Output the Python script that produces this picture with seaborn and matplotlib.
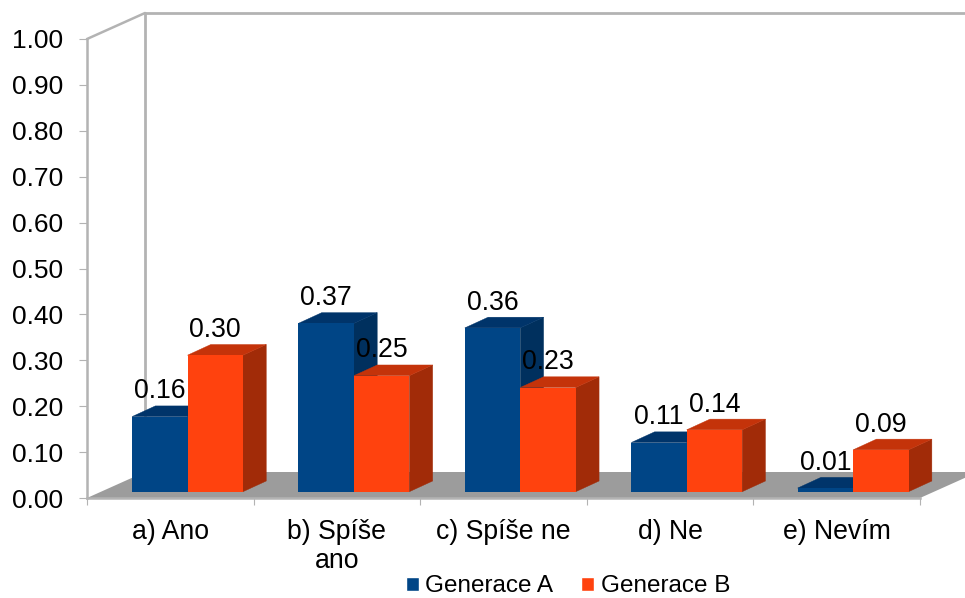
import matplotlib
matplotlib.use("Agg")
import matplotlib.pyplot as plt
from matplotlib.patches import Polygon
import numpy as np
import pandas as pd
import seaborn as sns

# ---- data ----
categories = ["a) Ano", "b) Spíše\nano", "c) Spíše ne", "d) Ne", "e) Nevím"]
series_a = [0.165, 0.37, 0.36, 0.108, 0.008]
series_b = [0.30, 0.255, 0.229, 0.136, 0.092]
labels_a = ["0.16", "0.37", "0.36", "0.11", "0.01"]
labels_b = ["0.30", "0.25", "0.23", "0.14", "0.09"]
y_ticks = [0.0, 0.1, 0.2, 0.3, 0.4, 0.5, 0.6, 0.7, 0.8, 0.9, 1.0]
series_names = ["Generace A", "Generace B"]

sns.set_theme(style="white")
plt.rcParams["font.family"] = ["Liberation Sans", "DejaVu Sans"]

W, H = 965, 598
GREY = "#b3b3b3"
FLOOR = "#9c9c9c"
front = {"Generace A": "#004586", "Generace B": "#ff420e"}
top_c = {"Generace A": "#00346a", "Generace B": "#c4330a"}
side_c = {"Generace A": "#00305e", "Generace B": "#a12b08"}


def box(x0, y_top, w, h):
    return [x0 / W, 1 - (y_top + h) / H, w / W, h / H]


fig = plt.figure(figsize=(W / 100, H / 100), dpi=100)

# ---- wall/floor axes: 5 categories across, 0..1 upward ----
AX_L, AX_T, AX_W, AX_H = 87, 39, 833, 459
ax = fig.add_axes(box(AX_L, AX_T, AX_W, AX_H))
ax.set_xlim(0, len(categories))
ax.set_ylim(0, 1)
ax.patch.set_visible(False)
step = AX_W / len(categories)
wall_dx = 58 / step
wall_dy = 26 / AX_H

floor = Polygon(
    [(0, 0), (wall_dx, wall_dy), (len(categories) + wall_dx, wall_dy), (len(categories), 0)],
    closed=True, facecolor=FLOOR, edgecolor="none", zorder=1, clip_on=False,
)
ax.add_patch(floor)
ax.plot([0, wall_dx], [1, 1 + wall_dy], color=GREY, lw=1.8, clip_on=False, zorder=2)
ax.plot([wall_dx, wall_dx], [wall_dy, 1 + wall_dy], color=GREY, lw=2.0, clip_on=False, zorder=2)
ax.plot([wall_dx, len(categories) + wall_dx], [1 + wall_dy, 1 + wall_dy],
        color=GREY, lw=2.0, clip_on=False, zorder=2)

for s in ("top", "right"):
    ax.spines[s].set_visible(False)
for s in ("left", "bottom"):
    ax.spines[s].set_color(GREY)
    ax.spines[s].set_linewidth(1.8)
ax.set_yticks(y_ticks)
ax.set_yticklabels([f"{v:.2f}" for v in y_ticks], fontsize=19, color="black")
ax.set_xticks(np.arange(len(categories) + 1))
ax.set_xticklabels([])
ax.set_xticks(np.arange(len(categories)) + 0.5, minor=True)
ax.set_xticklabels(categories, minor=True, fontsize=19.2, color="black", linespacing=1.16)
ax.tick_params(axis="y", which="major", left=True, length=6, width=0.8, color=GREY, pad=11)
ax.tick_params(axis="x", which="major", bottom=True, length=5, width=0.8, color=GREY)
ax.tick_params(axis="x", which="minor", bottom=False, length=0, pad=15)

# ---- bar axes: front plane of the 3D bars ----
STEP = 166.4
BAR_BASE = 491.7
BAR_SCALE = 455
BAR_L = 187.5 - STEP / 2
bx = fig.add_axes(box(BAR_L, BAR_BASE - BAR_SCALE, STEP * len(categories), BAR_SCALE))
bx.patch.set_visible(False)

df = pd.DataFrame({
    "category": categories * 2,
    "value": series_a + series_b,
    "series": [series_names[0]] * len(categories) + [series_names[1]] * len(categories),
})
sns.barplot(data=df, x="category", y="value", hue="series", hue_order=series_names,
            palette=front, width=2 / 3, gap=0, dodge=True, saturation=1, ax=bx, zorder=5)
bx.set_xlim(-0.5, len(categories) - 0.5)
bx.set_ylim(0, 1)
handles, names = bx.get_legend_handles_labels()
bx.get_legend().remove()
bx.axis("off")

dx = 23.3 / STEP
dy = 10.7 / BAR_SCALE
label_gap = 18.3 / BAR_SCALE
for i, (name, container, texts) in enumerate(zip(series_names, bx.containers, (labels_a, labels_b))):
    for bar, txt in zip(container, texts):
        x0, x1 = bar.get_x(), bar.get_x() + bar.get_width()
        h = bar.get_height()
        bar.set_edgecolor("none")
        bx.add_patch(Polygon([(x1, 0), (x1 + dx, dy), (x1 + dx, h + dy), (x1, h)], closed=True,
                             facecolor=side_c[name], edgecolor=side_c[name], lw=0.3, zorder=2 + i, clip_on=False))
        bx.add_patch(Polygon([(x0, h), (x0 + dx, h + dy), (x1 + dx, h + dy), (x1, h)], closed=True,
                             facecolor=top_c[name], edgecolor=top_c[name], lw=0.3, zorder=2 + i, clip_on=False))
        bx.text((x0 + x1) / 2, h + label_gap, txt, ha="center", va="baseline",
                fontsize=19.2, color="black", zorder=10, clip_on=False)

fig.legend(handles, names, loc="center", bbox_to_anchor=(568 / W, 1 - 586.5 / H), ncol=2,
           frameon=False, fontsize=17.5, borderpad=0, handlelength=0.54, handleheight=0.54,
           handletextpad=0.26, columnspacing=1.15, labelcolor="black")

fig.savefig("out.png", dpi=100)
